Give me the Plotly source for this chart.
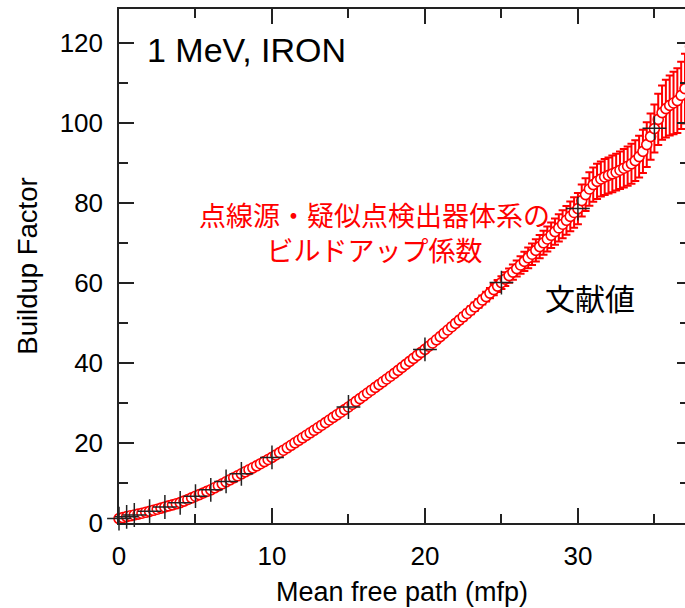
import plotly.graph_objects as go

# Calculated buildup factor (point isotropic source / pseudo point detector), step 0.25 mfp
mfp_step = 0.25
buildup_calc = [
    1.00, 1.25, 1.50, 1.70,
    1.90, 2.12, 2.34, 2.57,
    2.80, 3.07, 3.35, 3.62,
    3.90, 4.17, 4.44, 4.72,
    5.00, 5.38, 5.78, 6.18,
    6.60, 7.00, 7.40, 7.80,
    8.20, 8.70, 9.20, 9.70,
    10.20, 10.70, 11.20, 11.70,
    12.20, 12.70, 13.20, 13.70,
    14.20, 14.72, 15.25, 15.78,
    16.30, 16.90, 17.50, 18.10,
    18.70, 19.32, 19.95, 20.57,
    21.20, 21.82, 22.45, 23.07,
    23.70, 24.35, 25.00, 25.65,
    26.30, 26.95, 27.60, 28.25,
    28.90, 29.60, 30.30, 31.00,
    31.70, 32.40, 33.10, 33.80,
    34.50, 35.20, 35.90, 36.60,
    37.30, 38.05, 38.80, 39.55,
    40.30, 41.05, 41.80, 42.55,
    43.30, 44.10, 44.90, 45.70,
    46.50, 47.32, 48.15, 48.97,
    49.80, 50.62, 51.45, 52.27,
    53.10, 53.95, 54.80, 55.65,
    56.50, 57.37, 58.25, 59.12,
    60.00, 60.87, 61.75, 62.62,
    63.50, 64.40, 65.30, 66.20,
    67.10, 68.05, 69.00, 69.95,
    70.90, 71.82, 72.75, 73.67,
    74.60, 75.57, 76.55, 77.52,
    78.50, 80.50, 82.00, 83.40,
    84.50, 85.30, 85.90, 86.40,
    86.80, 87.20, 87.60, 88.10,
    88.60, 89.10, 89.70, 90.50,
    91.50, 92.80, 94.50, 96.50,
    98.50, 100.80, 102.50, 103.50,
    104.30, 104.90, 105.50, 106.80,
    108.50, 110.00,
]
# Statistical error (1 sigma); negligible below 22 mfp
buildup_err = [None] * 88 + [
    0.8, 0.85, 0.9, 0.95,
    1.0, 1.05, 1.1, 1.15,
    1.2, 1.3, 1.4, 1.5,
    1.6, 1.7, 1.8, 1.9,
    2.0, 2.2, 2.4, 2.6,
    2.7, 2.8, 2.9, 3.0,
    3.1, 3.2, 3.3, 3.4,
    3.5, 3.6, 3.7, 3.8,
    3.9, 4.0, 4.1, 4.2,
    4.3, 4.4, 4.4, 4.5,
    4.5, 4.6, 4.6, 4.7,
    4.8, 4.9, 5.0, 5.1,
    5.2, 5.4, 5.6, 5.8,
    6.0, 6.4, 6.8, 7.2,
    7.5, 7.8, 8.1, 8.4,
    8.7, 9.0,
]
mfp_calc = [i * mfp_step for i in range(len(buildup_calc))]

# Reference (literature) buildup factors
mfp_ref = [0, 0.5, 1, 2, 3, 4, 5, 6, 7, 8, 10, 15, 20, 25, 30, 35]
buildup_ref = [1.0, 1.45, 1.9, 2.85, 3.9, 4.95, 6.6, 8.2, 10.3, 12.2, 16.3, 28.9, 43.3, 60.0, 78.5, 98.6]

FONT = "Liberation Sans, Arial, Helvetica, sans-serif"
JP_FONT = "Noto Sans CJK JP"
RED = "rgb(255,0,0)"
INK = "#222222"

fig = go.Figure()
fig.add_trace(go.Scatter(
    x=mfp_calc, y=buildup_calc, mode="markers",
    marker=dict(symbol="circle", size=10, color="white",
                line=dict(color=RED, width=1.6)),
    error_y=dict(type="data", array=buildup_err, visible=True,
                 color=RED, thickness=2, width=4),
    cliponaxis=False, showlegend=False,
))
fig.add_trace(go.Scatter(
    x=mfp_ref, y=buildup_ref, mode="markers", yaxis="y2",
    marker=dict(symbol="cross-thin", size=17, line=dict(color=INK, width=1.5)),
    cliponaxis=False, showlegend=False,
))

axis_common = dict(
    ticks="inside", ticklen=15, tickwidth=1.5, tickcolor=INK,
    linecolor=INK, linewidth=1.5, showgrid=False, zeroline=False,
    tickfont=dict(family=FONT, size=26, color="black"),
)

fig.update_layout(
    width=685, height=608,
    margin=dict(l=119, r=0, t=9, b=85),
    paper_bgcolor="white", plot_bgcolor="white",
    xaxis=dict(
        range=[0, 37.0], dtick=10, tick0=0, showline=True, mirror="ticks",
        minor=dict(dtick=5, ticklen=9, ticks="inside", tickwidth=1.5, tickcolor=INK),
        title=dict(text="Mean free path (mfp)", font=dict(family=FONT, size=27, color="black"),
                   standoff=12),
        ticklabelstandoff=9,
        **axis_common,
    ),
    yaxis=dict(
        range=[-0.1, 128.4], dtick=20, tick0=0, showline=True,
        minor=dict(dtick=10, ticklen=9, ticks="inside", tickwidth=1.5, tickcolor=INK),
        title=dict(text="Buildup Factor", font=dict(family=FONT, size=27.5, color="black"),
                   standoff=14),
        ticklabelstandoff=9,
        **axis_common,
    ),
    yaxis2=dict(
        overlaying="y", matches="y", side="right", range=[-0.1, 128.4],
        dtick=20, tick0=0, ticks="inside", ticklen=8, tickwidth=1.5, tickcolor=INK,
        minor=dict(dtick=10, ticklen=5, ticks="inside", tickwidth=1.5, tickcolor=INK),
        showticklabels=False, showline=False, showgrid=False, zeroline=False,
    ),
    annotations=[
        dict(text="1 MeV, IRON", x=145, y=50, showarrow=False,
             xanchor="left", yanchor="middle",
             font=dict(family=FONT, size=34, color="black")),
        dict(text="点線源・疑似点検出器体系の<br>ビルドアップ係数", x=374, y=232,
             showarrow=False, xanchor="center", yanchor="middle",
             font=dict(family=JP_FONT, size=27, color=RED)),
        dict(text="文献値", x=590, y=297, showarrow=False,
             xanchor="center", yanchor="middle",
             font=dict(family=JP_FONT, size=30, color="black")),
    ],
)

# annotation positions are given in pixels; convert to paper coordinates
plot_l, plot_t, plot_w, plot_h = 119, 9, 685 - 119, 608 - 9 - 85
for ann in fig.layout.annotations:
    ann.xref = "paper"
    ann.yref = "paper"
    ann.x = (ann.x - plot_l) / plot_w
    ann.y = 1 - (ann.y - plot_t) / plot_h

fig.write_html("out.html")
